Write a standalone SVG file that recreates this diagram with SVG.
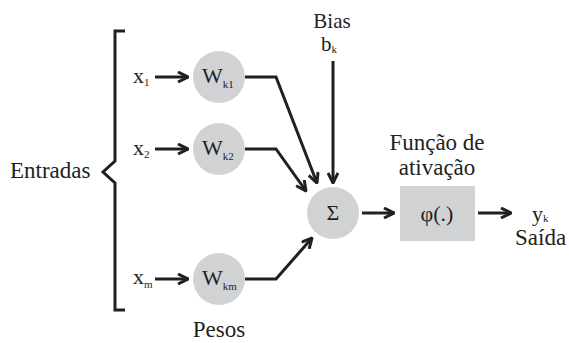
<svg xmlns="http://www.w3.org/2000/svg" width="569" height="343" viewBox="0 0 569 343">
<style>
text{font-family:'Liberation Serif','Times New Roman',serif;fill:#231f20;font-size:23px}
.m{font-size:22px}
.sub{font-size:11px}
.ln{fill:none;stroke:#231f20;stroke-width:3}
.node{fill:#d1d2d4}
</style>
<defs>
<marker id="ah" viewBox="0 0 12 12" refX="11" refY="6" markerWidth="12" markerHeight="12" markerUnits="userSpaceOnUse" orient="auto">
<polyline points="1,1 11,6 1,11" fill="none" stroke="#231f20" stroke-width="3"/>
</marker>
</defs>
<rect width="569" height="343" fill="#fff"/>
<g id="bracket">
<polyline class="ln" stroke-width="2" points="125,31 115,31 115,161 103,172 115,183 115,310 125,310"/>
<text x="10" y="178">Entradas</text>
</g>
<g id="x1"><text class="m" x="133" y="83">x<tspan class="sub" dy="3">1</tspan></text></g>
<g id="x2"><text class="m" x="133" y="155">x<tspan class="sub" dy="3">2</tspan></text></g>
<g id="xm"><text class="m" x="133" y="284">x<tspan class="sub" dy="4">m</tspan></text></g>
<g id="wk1"><circle class="node" cx="219" cy="77" r="26"/><text class="m" x="202" y="83">W<tspan class="sub" dy="5">k1</tspan></text></g>
<g id="wk2"><circle class="node" cx="219" cy="149" r="26"/><text class="m" x="202" y="155">W<tspan class="sub" dy="5">k2</tspan></text></g>
<g id="wkm"><circle class="node" cx="219" cy="279" r="26"/><text class="m" x="202" y="285">W<tspan class="sub" dy="5">km</tspan></text></g>
<g id="pesos"><text x="219" y="337" text-anchor="middle">Pesos</text></g>
<g id="bias"><text style="font-size:21px"><tspan x="332" y="28" text-anchor="middle">Bias</tspan><tspan x="321" y="51">b</tspan><tspan class="sub" dy="2">k</tspan></text></g>
<g id="sum"><circle class="node" cx="333" cy="213" r="26"/><text class="m" x="333" y="220" text-anchor="middle">Σ</text></g>
<g id="act"><text text-anchor="middle"><tspan x="437" y="150">Função de</tspan><tspan x="437" y="175">ativação</tspan></text>
<rect class="node" x="400" y="186" width="75" height="55"/><text class="m" x="437" y="221" text-anchor="middle">φ(.)</text></g>
<g id="out"><text><tspan class="m" x="532" y="221">y</tspan><tspan class="sub" dy="1">k</tspan><tspan x="515" y="245">Saída</tspan></text></g>
<g id="connectors">
<line class="ln" x1="155" y1="77" x2="188" y2="77" marker-end="url(#ah)"/>
<line class="ln" x1="155" y1="149" x2="188" y2="149" marker-end="url(#ah)"/>
<line class="ln" x1="155" y1="279" x2="188" y2="279" marker-end="url(#ah)"/>
<polyline class="ln" points="245,77 276,77 317,183" marker-end="url(#ah)"/>
<polyline class="ln" points="245,149 276,149 306,191" marker-end="url(#ah)"/>
<polyline class="ln" points="245,279 276,279 312,238" marker-end="url(#ah)"/>
<line class="ln" x1="333" y1="61" x2="333" y2="183" marker-end="url(#ah)"/>
<line class="ln" x1="362" y1="213" x2="394" y2="213" marker-end="url(#ah)"/>
<line class="ln" x1="478" y1="213" x2="511" y2="213" marker-end="url(#ah)"/>
</g>
</svg>
